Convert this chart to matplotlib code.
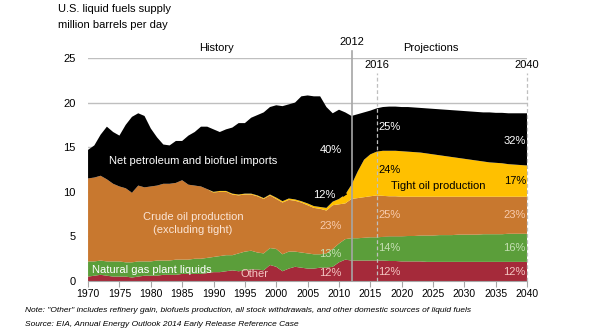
import numpy as np
import matplotlib
matplotlib.use("Agg")
import matplotlib.pyplot as plt

plt.rcParams['font.family'] = ['Liberation Sans', 'DejaVu Sans']

years = np.arange(1970, 2041)

# million barrels per day, 1970..2040, bottom layer first
other = [0.5, 0.6, 0.7, 0.6, 0.5, 0.5, 0.5, 0.4, 0.5, 0.6,
         0.6, 0.6, 0.7, 0.7, 0.7, 0.8, 0.8, 0.8, 0.8, 0.9,
         1.0, 1.0, 1.1, 1.2, 1.1, 1.2, 1.3, 1.3, 1.2, 1.8,
         1.6, 1.1, 1.4, 1.6, 1.5, 1.4, 1.4, 1.5, 1.5, 1.6,
         2.1, 2.4, 2.3,
         2.3, 2.3, 2.3, 2.3, 2.3, 2.25, 2.25, 2.2, 2.2, 2.2, 2.2, 2.15,
         2.15, 2.15, 2.15, 2.15, 2.15, 2.15, 2.15, 2.15,
         2.15, 2.15, 2.15, 2.15, 2.15, 2.15, 2.15, 2.15]
ngl = [1.7, 1.6, 1.6, 1.6, 1.7, 1.7, 1.6, 1.7, 1.7, 1.6,
       1.6, 1.7, 1.6, 1.6, 1.7, 1.6, 1.6, 1.7, 1.7, 1.7,
       1.7, 1.8, 1.8, 1.7, 2.0, 2.1, 2.1, 1.9, 1.9, 1.9,
       2.0, 1.9, 1.9, 1.7, 1.7, 1.7, 1.6, 1.5, 1.6, 2.0,
       2.1, 2.3, 2.5,
       2.5, 2.55, 2.6, 2.6, 2.65, 2.75, 2.75, 2.8, 2.85, 2.85, 2.9, 2.95,
       2.95, 3.0, 3.0, 3.0, 3.05, 3.05, 3.05, 3.05,
       3.1, 3.1, 3.1, 3.1, 3.15, 3.15, 3.15, 3.15]
crude = [9.3, 9.4, 9.5, 9.2, 8.7, 8.4, 8.3, 7.8, 8.5, 8.3,
         8.4, 8.4, 8.6, 8.6, 8.6, 8.9, 8.4, 8.2, 8.1, 7.7,
         7.2, 7.2, 7.1, 6.8, 6.5, 6.4, 6.3, 6.3, 6.1, 5.9,
         5.6, 5.8, 5.8, 5.7, 5.6, 5.4, 5.2, 5.1, 4.8, 4.9,
         4.4, 4.0, 4.4,
         4.5, 4.55, 4.6, 4.7, 4.6, 4.5, 4.5, 4.45, 4.4, 4.4, 4.35, 4.35,
         4.35, 4.3, 4.3, 4.3, 4.25, 4.25, 4.25, 4.25,
         4.2, 4.2, 4.2, 4.2, 4.15, 4.15, 4.15, 4.15]
tight = [0, 0, 0, 0, 0, 0, 0, 0, 0, 0,
         0, 0, 0, 0, 0, 0, 0, 0, 0, 0,
         0.1, 0.1, 0.1, 0.1, 0.1, 0.1, 0.1, 0.1, 0.1, 0.1,
         0.15, 0.15, 0.15, 0.15, 0.15, 0.2, 0.2, 0.2, 0.3, 0.4,
         0.6, 1.0, 1.6,
         3.0, 4.2, 4.7, 4.9, 5.05, 5.1, 5.1, 5.1, 5.05, 5.0, 4.95, 4.85,
         4.75, 4.65, 4.55, 4.45, 4.35, 4.25, 4.15, 4.05,
         3.95, 3.85, 3.8, 3.75, 3.65, 3.6, 3.55, 3.5]
imports = [3.2, 3.6, 4.6, 5.9, 5.8, 5.7, 7.1, 8.5, 8.1, 8.0,
           6.5, 5.4, 4.4, 4.3, 4.7, 4.4, 5.5, 6.0, 6.7, 7.0,
           7.0, 6.6, 6.9, 7.4, 8.0, 7.9, 8.5, 9.0, 9.6, 9.8,
           10.35, 10.65, 10.55, 10.85, 11.75, 12.1, 12.3, 12.4, 11.3, 9.9,
           10.0, 9.2, 7.7,
           6.4, 5.3, 4.9, 4.85, 4.9, 4.95, 4.95, 4.95, 5.0, 5.0, 5.0, 5.05,
           5.1, 5.15, 5.2, 5.25, 5.3, 5.35, 5.4, 5.45,
           5.5, 5.6, 5.6, 5.65, 5.7, 5.75, 5.8, 5.85]

colors = ['#A52A3A', '#5B9E3A', '#C8782F', '#FFC000', '#000000']

# share labels: (x, y, text, color, ha)
pct_labels = [
    (2010.4, 14.7, '40%', 'white', 'right'),
    (2010.4, 6.2, '23%', '#F8CBAD', 'right'),
    (2010.4, 3.0, '13%', '#C6E0B4', 'right'),
    (2010.4, 0.9, '12%', '#F4C7C3', 'right'),
    (2016.3, 17.3, '25%', 'white', 'left'),
    (2016.3, 12.5, '24%', 'black', 'left'),
    (2016.3, 7.4, '25%', '#F8CBAD', 'left'),
    (2016.3, 3.7, '14%', '#C6E0B4', 'left'),
    (2016.3, 1.0, '12%', '#F4C7C3', 'left'),
    (2039.8, 15.7, '32%', 'white', 'right'),
    (2039.8, 11.2, '17%', 'black', 'right'),
    (2039.8, 7.4, '23%', '#F8CBAD', 'right'),
    (2039.8, 3.7, '16%', '#C6E0B4', 'right'),
    (2039.8, 1.0, '12%', '#F4C7C3', 'right'),
]

fig = plt.figure(figsize=(5.95, 3.35), dpi=100)
ax = fig.add_axes([0.148, 0.161, 0.738, 0.666])

ax.set_axisbelow(True)
ax.yaxis.grid(True, color='#BFBFBF', linewidth=1)
ax.stackplot(years, other, ngl, crude, tight, imports, colors=colors,
             linewidth=0, zorder=2)

ax.set_xlim(1970, 2040)
ax.set_ylim(0, 25)
ax.set_xticks(np.arange(1970, 2041, 5))
ax.set_yticks(np.arange(0, 26, 5))
ax.tick_params(axis='y', length=0, labelsize=8, pad=9)
ax.tick_params(axis='x', length=4, color='#A6A6A6', labelsize=7.5, pad=2)
for s in ['top', 'right', 'left']:
    ax.spines[s].set_visible(False)
ax.spines['bottom'].set_color('#A6A6A6')

# history / projection markers
ax.plot([2012, 2012], [0, 25.8], color='#A6A6A6', lw=1.2, clip_on=False, zorder=4)
for yr in [2016, 2040]:
    ax.plot([yr, yr], [0, 23.3], color='#BFBFBF', lw=0.9, ls=(0, (3, 2)),
            clip_on=False, zorder=4)
ax.text(2012, 26.2, '2012', ha='center', va='bottom', fontsize=8)
ax.text(2016, 23.6, '2016', ha='center', va='bottom', fontsize=8)
ax.text(2040, 23.6, '2040', ha='center', va='bottom', fontsize=8)
ax.text(1990.5, 25.5, 'History', ha='center', va='bottom', fontsize=8)
ax.text(2024.7, 25.5, 'Projections', ha='center', va='bottom', fontsize=8)

# series labels
ax.text(1986.7, 13.4, 'Net petroleum and biofuel imports', color='white',
        ha='center', va='center', fontsize=8, zorder=5)
ax.text(1986.7, 6.45, 'Crude oil production\n(excluding tight)', color='#FBE5D6',
        ha='center', va='center', fontsize=8, linespacing=1.4, zorder=5)
ax.text(1970.6, 1.2, 'Natural gas plant liquids', color='white',
        ha='left', va='center', fontsize=8, zorder=5)
ax.text(1996.6, 0.8, 'Other', color='#F4C7C3',
        ha='center', va='center', fontsize=8, zorder=5)
ax.text(2025.8, 10.7, 'Tight oil production', color='black',
        ha='center', va='center', fontsize=8, zorder=5)

for x, y, t, c, ha in pct_labels:
    ax.text(x, y, t, color=c, ha=ha, va='center', fontsize=8, zorder=5)

ax.annotate('', xy=(2011.8, 9.8), xytext=(2009.6, 9.6),
            arrowprops=dict(arrowstyle='-|>', color='black', lw=0.8,
                            mutation_scale=6), zorder=5)
ax.text(2009.4, 9.6, '12%', color='white', ha='right', va='center',
        fontsize=8, zorder=5)

fig.text(58 / 595, 1 - 9 / 335, 'U.S. liquid fuels supply', fontsize=8,
         va='center', ha='left')
fig.text(58 / 595, 1 - 25 / 335, 'million barrels per day', fontsize=8,
         va='center', ha='left')
fig.text(25 / 595, 1 - 311 / 335,
         'Note: "Other" includes refinery gain, biofuels production, all stock '
         'withdrawals, and other domestic sources of liquid fuels',
         fontsize=6, style='italic', va='center', ha='left')
fig.text(25 / 595, 1 - 325 / 335,
         'Source: EIA, Annual Energy Outlook 2014 Early Release Reference Case',
         fontsize=6, style='italic', va='center', ha='left')

fig.savefig('out.png', dpi=100)
